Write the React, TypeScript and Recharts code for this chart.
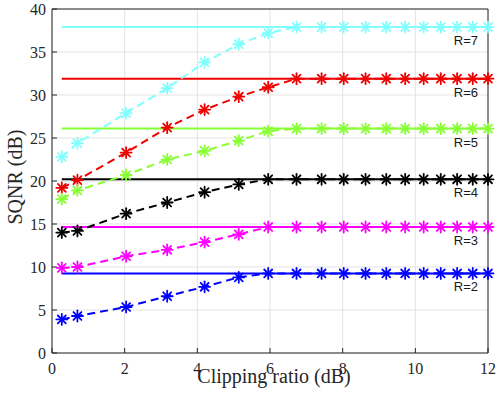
import {
  LineChart,
  Line,
  XAxis,
  YAxis,
  CartesianGrid,
  ReferenceLine,
  Label,
} from "recharts";

// clipping ratio in dB, one per marker
const clipRatio = [
  0.27, 0.7, 2.04, 3.17, 4.2, 5.14, 5.95, 6.73, 7.42, 8.03, 8.63, 9.2, 9.72,
  10.23, 10.7, 11.15, 11.58, 12,
];

const sqnrR7 = [
  22.8, 24.4, 27.9, 30.8, 33.8, 35.9, 37.2, 37.9, 37.9, 37.9, 37.9, 37.9, 37.9,
  37.9, 37.9, 37.9, 37.9, 37.9,
];
const sqnrR6 = [
  19.2, 20.1, 23.3, 26.2, 28.3, 29.8, 30.9, 31.9, 31.9, 31.9, 31.9, 31.9, 31.9,
  31.9, 31.9, 31.9, 31.9, 31.9,
];
const sqnrR5 = [
  17.9, 18.9, 20.7, 22.5, 23.5, 24.7, 25.8, 26.1, 26.1, 26.1, 26.1, 26.1, 26.1,
  26.1, 26.1, 26.1, 26.1, 26.1,
];
const sqnrR4 = [
  14.0, 14.2, 16.2, 17.5, 18.7, 19.6, 20.2, 20.2, 20.2, 20.2, 20.2, 20.2, 20.2,
  20.2, 20.2, 20.2, 20.2, 20.2,
];
const sqnrR3 = [
  9.9, 10.0, 11.25, 12.0, 12.9, 13.8, 14.65, 14.65, 14.65, 14.65, 14.65, 14.65,
  14.65, 14.65, 14.65, 14.65, 14.65, 14.65,
];
const sqnrR2 = [
  3.9, 4.3, 5.35, 6.6, 7.7, 8.8, 9.25, 9.25, 9.25, 9.25, 9.25, 9.25, 9.25, 9.25,
  9.25, 9.25, 9.25, 9.25,
];

// theoretical (no clipping) levels, drawn as solid lines
const bounds = [37.9, 31.9, 26.1, 20.2, 14.65, 9.25];
const rLabels = ["R=7", "R=6", "R=5", "R=4", "R=3", "R=2"];
const keys = ["r7", "r6", "r5", "r4", "r3", "r2"];
const colors = ["#80ffff", "#ee0000", "#88ff33", "#000000", "#ff00ff", "#0000ff"];

const xTicks = [0, 2, 4, 6, 8, 10, 12];
const yTicks = [0, 5, 10, 15, 20, 25, 30, 35, 40];

const data = clipRatio.map((x, i) => ({
  x,
  r7: sqnrR7[i],
  r6: sqnrR6[i],
  r5: sqnrR5[i],
  r4: sqnrR4[i],
  r3: sqnrR3[i],
  r2: sqnrR2[i],
}));

const AXIS = "#262626";
const serif = "'Liberation Serif', 'Times New Roman', serif";

const Asterisk = (props: any) => {
  const { cx, cy, stroke } = props;
  if (cx == null || cy == null) return <g />;
  const r = 5.5;
  const d = r * 0.72;
  return (
    <g stroke={stroke} strokeWidth={1.8} strokeLinecap="round">
      <line x1={cx - r} y1={cy} x2={cx + r} y2={cy} />
      <line x1={cx} y1={cy - r} x2={cx} y2={cy + r} />
      <line x1={cx - d} y1={cy - d} x2={cx + d} y2={cy + d} />
      <line x1={cx - d} y1={cy + d} x2={cx + d} y2={cy - d} />
    </g>
  );
};

export default function App() {
  const tickStyle = { fill: AXIS, fontFamily: serif, fontSize: 16 };
  return (
    <div style={{ position: "absolute", left: 0, top: 0, background: "#fff" }}>
      <LineChart
        width={496}
        height={399}
        data={data}
        margin={{ top: 8, right: 7, left: 0, bottom: 0 }}
      >
        <CartesianGrid stroke="#e3e3e3" strokeWidth={1} />
        <XAxis
          dataKey="x"
          type="number"
          domain={[0, 12]}
          ticks={xTicks}
          height={46}
          tickSize={-5}
          tickMargin={15}
          tick={tickStyle}
          stroke={AXIS}
          interval={0}
        >
          <Label
            content={(p: any) => (
              <text
                x={p.viewBox.x + p.viewBox.width / 2 + 4}
                y={383}
                textAnchor="middle"
                fontFamily={serif}
                fontSize={20}
                fill={AXIS}
              >
                Clipping ratio (dB)
              </text>
            )}
          />
        </XAxis>
        <XAxis
          xAxisId="top"
          orientation="top"
          type="number"
          domain={[0, 12]}
          ticks={xTicks}
          height={1}
          tickSize={-5}
          tick={false}
          stroke={AXIS}
        />
        <YAxis
          type="number"
          domain={[0, 40]}
          ticks={yTicks}
          width={52}
          tickSize={-5}
          tickMargin={11}
          tick={tickStyle}
          stroke={AXIS}
          interval={0}
        >
          <Label
            content={() => (
              <text
                x={22}
                y={177}
                transform="rotate(-90, 22, 177)"
                textAnchor="middle"
                fontFamily={serif}
                fontSize={20}
                fill={AXIS}
              >
                SQNR (dB)
              </text>
            )}
          />
        </YAxis>
        <YAxis
          yAxisId="right"
          orientation="right"
          type="number"
          domain={[0, 40]}
          ticks={yTicks}
          width={1}
          tickSize={-5}
          tick={false}
          stroke={AXIS}
        />
        {bounds.map((b, i) => (
          <ReferenceLine
            key={`bound-${i}`}
            segment={[
              { x: clipRatio[0], y: b },
              { x: 12, y: b },
            ]}
            stroke={colors[i]}
            strokeWidth={2}
            label={{
              content: (p: any) => (
                <text
                  x={p.viewBox.x + p.viewBox.width - 10}
                  y={p.viewBox.y + 18}
                  textAnchor="end"
                  fontFamily="'Liberation Sans', Arial, sans-serif"
                  fontSize={13}
                  fill="#1a1a1a"
                >
                  {rLabels[i]}
                </text>
              ),
            }}
          />
        ))}
        {keys.map((k, i) => (
          <Line
            key={k}
            dataKey={k}
            type="linear"
            stroke={colors[i]}
            strokeWidth={2}
            strokeDasharray="8 5"
            dot={<Asterisk stroke={colors[i]} />}
            activeDot={false}
            isAnimationActive={false}
          />
        ))}
      </LineChart>
    </div>
  );
}
